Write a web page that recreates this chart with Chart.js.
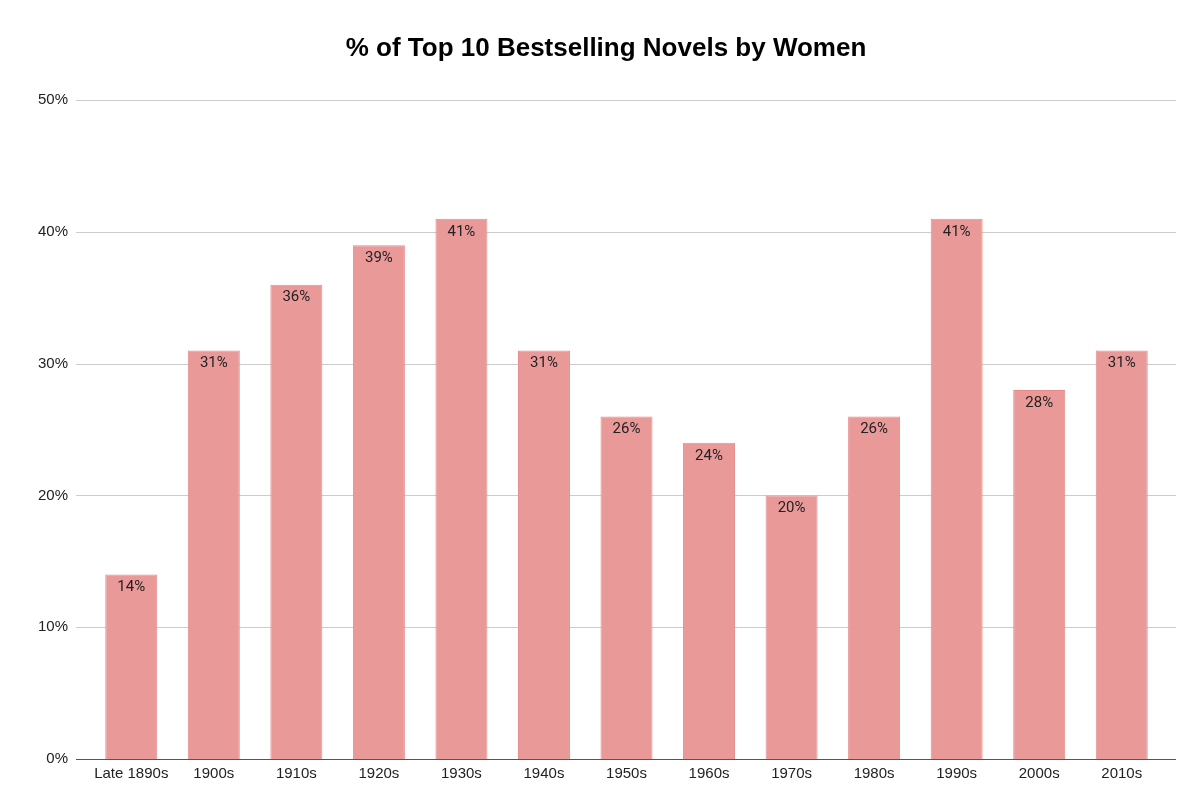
<!DOCTYPE html>
<html>
<head>
<meta charset="utf-8">
<script src="https://cdn.jsdelivr.net/npm/chart.js@4"></script>
<style>
html,body{margin:0;padding:0;background:#fff;}
#wrap{width:1200px;height:800px;}
</style>
</head>
<body>
<div id="wrap"><canvas id="c" width="1200" height="800"></canvas></div>
<script>
const categories = ["Late 1890s","1900s","1910s","1920s","1930s","1940s","1950s","1960s","1970s","1980s","1990s","2000s","2010s"];
const values = [14,31,36,39,41,31,26,24,20,26,41,28,31];
const yTicks = [0,10,20,30,40,50];

const gridPlugin = {
  id: 'extGrid',
  beforeDatasetsDraw(chart) {
    const ctx = chart.ctx, y = chart.scales.y, area = chart.chartArea;
    ctx.save();
    ctx.strokeStyle = '#cccccc';
    ctx.lineWidth = 1;
    yTicks.forEach(t => {
      if (t === 0) return;
      const py = Math.round(y.getPixelForValue(t)) + 0.5;
      ctx.beginPath();
      ctx.moveTo(area.left - 14, py);
      ctx.lineTo(area.right + 13, py);
      ctx.stroke();
    });
    const py0 = Math.round(y.getPixelForValue(0)) + 0.5;
    ctx.strokeStyle = '#555555';
    ctx.beginPath();
    ctx.moveTo(area.left - 14, py0);
    ctx.lineTo(area.right + 13, py0);
    ctx.stroke();
    ctx.restore();
  }
};

const labelPlugin = {
  id: 'barLabels',
  afterDatasetsDraw(chart) {
    const ctx = chart.ctx;
    const meta = chart.getDatasetMeta(0);
    ctx.save();
    ctx.fillStyle = '#222222';
    ctx.font = '15px Roboto';
    ctx.textAlign = 'center';
    ctx.textBaseline = 'middle';
    meta.data.forEach((el, i) => {
      ctx.fillText(values[i] + '%', el.x, el.y + 13);
    });
    ctx.restore();
  }
};

new Chart(document.getElementById('c'), {
  type: 'bar',
  data: {
    labels: categories,
    datasets: [{
      data: values,
      backgroundColor: '#ea9999',
      borderColor: '#e68a8a',
      borderWidth: 1,
      categoryPercentage: 1,
      barPercentage: 0.63
    }]
  },
  options: {
    responsive: false,
    animation: false,
    devicePixelRatio: 1,
    layout: { padding: { left: 12, right: 0, top: 0, bottom: 0 } },
    plugins: {
      legend: { display: false },
      tooltip: { enabled: false },
      title: {
        display: true,
        text: '% of Top 10 Bestselling Novels by Women',
        color: '#000000',
        font: { family: 'Liberation Sans, Arial', size: 26, weight: 'bold' },
        padding: { top: 33, bottom: 36 }
      }
    },
    scales: {
      x: {
        grid: { display: false, drawTicks: false },
        border: { display: false },
        ticks: {
          color: '#222222',
          font: { family: 'Liberation Sans, Arial', size: 15 },
          padding: 6,
          maxRotation: 0,
          autoSkip: false
        },
        afterFit(s) { s.height = 41; }
      },
      y: {
        min: 0, max: 50,
        afterBuildTicks(s) { s.ticks = yTicks.map(v => ({ value: v })); },
        grid: { display: false, drawTicks: false },
        border: { display: false },
        ticks: {
          color: '#222222',
          font: { family: 'Liberation Sans, Arial', size: 15 },
          padding: 22,
          callback: v => v + '%'
        },
        afterFit(s) { s.width = 78; }
      },
      yRight: {
        position: 'right',
        min: 0, max: 50,
        grid: { display: false, drawTicks: false },
        border: { display: false },
        ticks: { display: false },
        afterFit(s) { s.width = 37; }
      }
    }
  },
  plugins: [gridPlugin, labelPlugin]
});
</script>
</body>
</html>
